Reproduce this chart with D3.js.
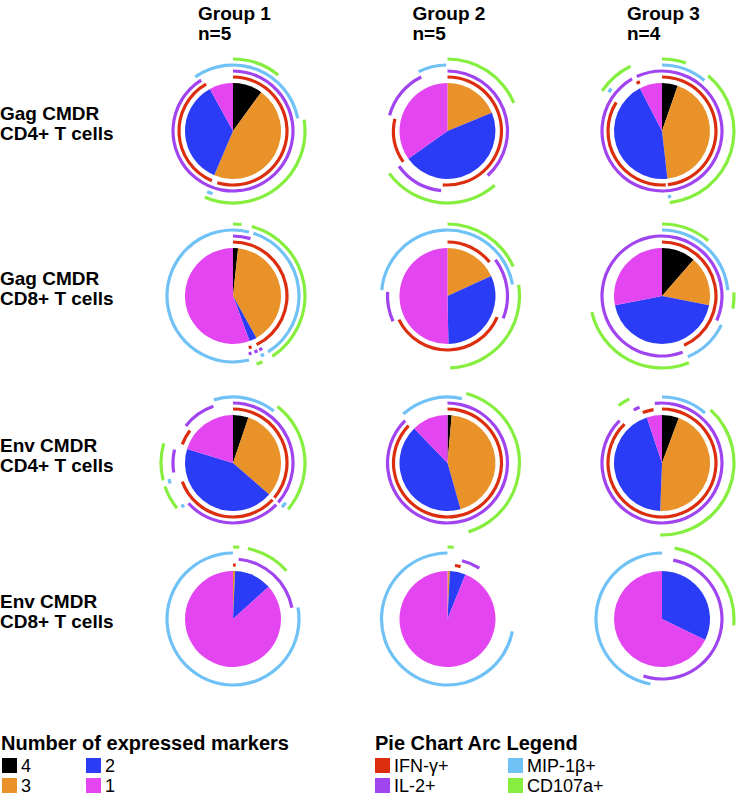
<!DOCTYPE html>
<html><head><meta charset="utf-8">
<script src="https://cdn.jsdelivr.net/npm/d3@7/dist/d3.min.js"></script>
<style>body{margin:0;background:#fff}svg{display:block}text{font-family:"Liberation Sans",Arial,sans-serif}</style>
</head><body><svg id="c" width="737" height="797"></svg>
<script>
// ---------------- data ----------------
const groups = ["Group 1", "Group 2", "Group 3"];
const groupN = ["n=5", "n=5", "n=4"];
const rowLabels = [["Gag CMDR", "CD4+ T cells"], ["Gag CMDR", "CD8+ T cells"], ["Env CMDR", "CD4+ T cells"], ["Env CMDR", "CD8+ T cells"]];
const markerCounts = ["4", "3", "2", "1"];
const arcMarkers = ["IFN-γ+", "IL-2+", "MIP-1β+", "CD107a+"];

// slice shares (%) for 4,3,2,1 expressed markers; pies row by row (Gag CD4, Gag CD8, Env CD4, Env CD8) x (G1,G2,G3)
const pieValues = [
  [10, 46.4, 35.6, 8],
  [0, 18.8, 46.4, 34.8],
  [5.3, 42.9, 44.2, 7.6],
  [1.7, 40.2, 2.5, 55.6],
  [0, 18.2, 31.5, 50.3],
  [11.4, 16.7, 43.8, 28.1],
  [5.2, 31.2, 43.3, 20.3],
  [1.4, 44.2, 42.2, 12.2],
  [5.7, 44.9, 44.3, 5.1],
  [0, 0.7, 12.6, 86.7],
  [0, 0.8, 5.3, 93.9],
  [0, 0, 32.2, 67.8]
];

// arcs: [start %, end %, ring] per pie
const ifnArcs = [
  [[0, 54.7, 0], [56.4, 91.7, 0]],
  [[0, 51.4, 0], [65.3, 78.6, 0]],
  [[0, 48.3, 0], [48.9, 83.9, 0], [92.2, 93.3, 0]],
  [[0, 42.8, 0], [44.4, 45.3, 0]],
  [[0, 14.2, 0], [31.4, 67.8, 0]],
  [[0, 43.3, 0]],
  [[0, 36.1, 0], [36.9, 69.4, 0], [80.6, 85.3, 0]],
  [[0, 87.2, 0]],
  [[0, 87.8, 0], [94.2, 97.5, 0]],
  [[0, 0.8, 0]],
  [[2.2, 3.9, 0]],
  []
];
const il2Arcs = [
  [[0, 91.1, 1]],
  [[0, 38.3, 1], [51.7, 65, 1], [79.2, 92.8, 1]],
  [[0, 91.7, 1], [93.1, 100, 1]],
  [[0, 4.7, 1], [41.9, 42.8, 1], [43.3, 44.2, 1], [45, 45.8, 1]],
  [[14.7, 31.1, 1], [68.1, 76.1, 1]],
  [[0, 31.7, 1], [44.4, 100, 1]],
  [[0, 36.4, 1], [37.2, 63.3, 1], [72.5, 78.6, 1], [85.6, 94.7, 1]],
  [[0, 87.5, 1]],
  [[0, 87.5, 1], [92.2, 93.9, 1], [98.1, 100, 1]],
  [[1.5, 22, 1]],
  [[3.9, 8.9, 1]],
  [[3, 55, 1]]
];
const mipArcs = [
  [[90.3, 121.9, 2], [55, 56.4, 2]],
  [[92.8, 99.7, 2]],
  [[0, 11.1, 2], [47.8, 48.6, 2], [85, 86.1, 2]],
  [[0, 3.9, 2], [5, 41.1, 2], [42.2, 43.1, 2], [46.1, 100, 2]],
  [[76.4, 122.2, 2]],
  [[0, 23.6, 2], [32.2, 43.6, 2]],
  [[95.3, 110.6, 2], [70, 71.1, 2], [63.3, 64.2, 2], [35.3, 36.7, 2]],
  [[88.3, 103.5, 2]],
  [[0, 11.3, 2]],
  [[22.2, 100, 2]],
  [[28, 100, 2]],
  [[52.8, 100, 2]]
];
const cd107Arcs = [
  [[0, 10.8, 3], [22.5, 56.4, 3]],
  [[0, 18.6, 3], [38.6, 65, 3]],
  [[0, 5.4, 3], [11.1, 48.3, 3], [84.4, 92.8, 3]],
  [[0, 1.9, 3], [4.2, 40.8, 3], [43.3, 44.7, 3]],
  [[0, 18.3, 3], [22.5, 49.4, 3]],
  [[0, 11.1, 3], [24.2, 27.8, 3], [43.9, 71.4, 3]],
  [[10.6, 36.1, 3], [71.1, 79.4, 3], [64.2, 69.7, 3]],
  [[4.2, 45.3, 3]],
  [[11.8, 50.4, 3], [89.7, 92.5, 3]],
  [[0, 1.4, 3], [3.3, 13.3, 3]],
  [[0, 1.4, 3]],
  [[2.8, 26.4, 3]]
];

// ---------------- styles / layout ----------------
const sliceColors = ["#000000", "#EA922A", "#2A3CF5", "#E346F1"];
const arcColors = ["#DC2E0E", "#A044F0", "#70C2F6", "#86EE3E"];
const rowY = [131, 296, 463, 619];
const colX = d3.scaleLinear().domain([0, 2]).range([233, 662]);
const angle = d3.scaleLinear().domain([0, 100]).range([0, 2 * Math.PI]);
const ringR = d3.scaleLinear().domain([0, 3]).range([54, 72]);
const pieR = 48, arcW = 3.2;

const svg = d3.select("#c");

// headers
groups.forEach((g, i) => {
  const x = colX(i) - 35;
  svg.append("text").attr("x", x).attr("y", 20).attr("font-size", 19).attr("font-weight", "bold").text(g);
  svg.append("text").attr("x", x).attr("y", 40).attr("font-size", 19).attr("font-weight", "bold").text(groupN[i]);
});
// row labels
rowLabels.forEach((lab, r) => {
  svg.append("text").attr("x", 0).attr("y", rowY[r] - 11).attr("font-size", 19).attr("font-weight", "bold").text(lab[0]);
  svg.append("text").attr("x", 0).attr("y", rowY[r] + 9).attr("font-size", 19).attr("font-weight", "bold").text(lab[1]);
});

const pie = d3.pie().sort(null).value(d => d);
const sliceArc = d3.arc().innerRadius(0).outerRadius(pieR);
const allArcs = [ifnArcs, il2Arcs, mipArcs, cd107Arcs];

pieValues.forEach((vals, k) => {
  const r = Math.floor(k / 3), c = k % 3;
  const g = svg.append("g").attr("transform", `translate(${colX(c)},${rowY[r]})`);
  g.selectAll("path.s").data(pie(vals)).join("path").attr("class", "s")
    .attr("d", sliceArc).attr("fill", (d, i) => sliceColors[i]);
  allArcs.forEach((set, m) => {
    g.selectAll("path.m" + m).data(set[k]).join("path").attr("class", "m" + m)
      .attr("d", d => d3.arc().innerRadius(ringR(d[2]) - arcW / 2).outerRadius(ringR(d[2]) + arcW / 2)
        .startAngle(angle(d[0])).endAngle(angle(d[1]))())
      .attr("fill", arcColors[m]);
  });
});

// legends
const ly = 750;
svg.append("text").attr("x", 1).attr("y", ly).attr("font-size", 20).attr("font-weight", "bold").text("Number of expressed markers");
svg.append("text").attr("x", 375).attr("y", ly).attr("font-size", 20).attr("font-weight", "bold").text("Pie Chart Arc Legend");
markerCounts.forEach((m, i) => {
  const col = i < 2 ? 0 : 1, row = i % 2;
  const x = 2 + col * 84, y = 758 + row * 20;
  svg.append("rect").attr("x", x).attr("y", y).attr("width", 15).attr("height", 15).attr("fill", sliceColors[i]);
  svg.append("text").attr("x", x + 19).attr("y", y + 14).attr("font-size", 18).text(m);
});
arcMarkers.forEach((m, i) => {
  const col = i === 0 || i === 1 ? 0 : 1;
  const row = i === 0 || i === 2 ? 0 : 1;
  const x = 375 + col * 133, y = 758 + row * 20;
  svg.append("rect").attr("x", x).attr("y", y).attr("width", 15).attr("height", 15).attr("fill", arcColors[i]);
  svg.append("text").attr("x", x + 19).attr("y", y + 14).attr("font-size", 18).text(m);
});
</script></body></html>
